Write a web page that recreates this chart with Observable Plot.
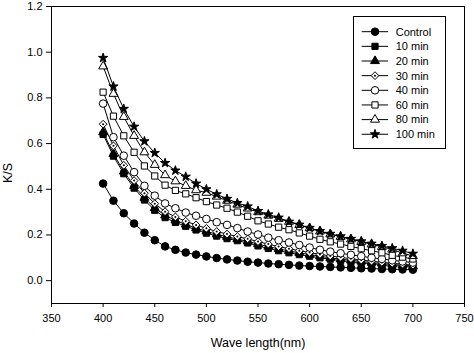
<!DOCTYPE html>
<html><head><meta charset="utf-8">
<script src="https://cdn.jsdelivr.net/npm/d3@7"></script>
<script src="https://cdn.jsdelivr.net/npm/@observablehq/plot@0.6"></script>
<style>
html,body{margin:0;padding:0;background:#fff;}
#chart{position:relative;width:474px;height:353px;font-family:"Liberation Sans",Arial,sans-serif;}
#legend{position:absolute;left:353px;top:16px;}
</style></head><body><div id="chart"></div>
<script>
const wavelengths = [400,410,420,430,440,450,460,470,480,490,500,510,520,530,540,550,560,570,580,590,600,610,620,630,640,650,660,670,680,690,700];
const seriesNames = ["Control","10 min","20 min","30 min","40 min","60 min","80 min","100 min"];
const control = [0.425,0.350,0.295,0.250,0.210,0.177,0.150,0.135,0.123,0.114,0.106,0.099,0.093,0.088,0.083,0.079,0.075,0.072,0.069,0.066,0.064,0.062,0.060,0.058,0.056,0.054,0.053,0.051,0.050,0.049,0.048];
const min10 = [0.640,0.545,0.468,0.405,0.353,0.308,0.276,0.255,0.238,0.222,0.208,0.195,0.184,0.175,0.165,0.152,0.141,0.131,0.122,0.114,0.107,0.100,0.094,0.088,0.083,0.078,0.074,0.070,0.066,0.063,0.060];
const min20 = [0.650,0.555,0.478,0.415,0.363,0.318,0.286,0.264,0.246,0.230,0.216,0.203,0.192,0.182,0.172,0.160,0.149,0.139,0.130,0.122,0.114,0.107,0.100,0.094,0.089,0.084,0.079,0.075,0.071,0.067,0.064];
const min30 = [0.685,0.590,0.505,0.438,0.383,0.337,0.302,0.279,0.260,0.244,0.229,0.215,0.204,0.193,0.183,0.171,0.160,0.149,0.140,0.131,0.123,0.115,0.108,0.102,0.096,0.090,0.085,0.080,0.076,0.072,0.068];
const min40 = [0.775,0.628,0.547,0.475,0.415,0.372,0.338,0.317,0.298,0.284,0.270,0.256,0.244,0.230,0.215,0.202,0.188,0.177,0.167,0.156,0.145,0.135,0.127,0.120,0.113,0.107,0.100,0.095,0.089,0.084,0.079];
const min60 = [0.825,0.720,0.634,0.562,0.502,0.458,0.418,0.395,0.380,0.363,0.346,0.331,0.317,0.300,0.282,0.262,0.248,0.234,0.223,0.209,0.195,0.181,0.170,0.160,0.150,0.140,0.131,0.122,0.111,0.103,0.095];
const min80 = [0.938,0.818,0.717,0.634,0.562,0.507,0.462,0.435,0.415,0.396,0.385,0.368,0.350,0.333,0.316,0.300,0.285,0.271,0.258,0.244,0.230,0.216,0.203,0.192,0.181,0.170,0.159,0.148,0.137,0.120,0.108];
const min100 = [0.975,0.850,0.752,0.674,0.610,0.559,0.515,0.482,0.455,0.425,0.400,0.378,0.358,0.340,0.325,0.305,0.290,0.276,0.258,0.245,0.231,0.217,0.205,0.194,0.183,0.172,0.162,0.152,0.142,0.131,0.118];
const xTicks = [350,400,450,500,550,600,650,700,750];
const yTicks = [0.0,0.2,0.4,0.6,0.8,1.0,1.2];
const xLabel = "Wave length(nm)";
const yLabel = "K/S";

const seriesValues = [control,min10,min20,min30,min40,min60,min80,min100];
// marker styles per series
const styles = [
  {symbol:"circle", r:3.8, fill:"black"},
  {symbol:"square", r:3.5, fill:"black"},
  {symbol:"triangle", r:3.3, fill:"black"},
  {symbol:"diamond2", r:3.5, fill:"white", dot:true},
  {symbol:"circle", r:3.8, fill:"white"},
  {symbol:"square", r:3.5, fill:"white"},
  {symbol:"triangle", r:3.3, fill:"white"},
  {symbol:"star", r:2.9, fill:"black"}
];

const rows = [];
seriesNames.forEach((n,i)=>seriesValues[i].forEach((v,j)=>rows.push({series:n, wl:wavelengths[j], ks:v})));

const marks = [];
seriesNames.forEach((n,i)=>{
  const d = rows.filter(r=>r.series===n);
  const s = styles[i];
  marks.push(Plot.line(d,{x:"wl",y:"ks",stroke:"black",strokeWidth:1}));
  marks.push(Plot.dot(d,{x:"wl",y:"ks",symbol:s.symbol,r:s.r,fill:s.fill,stroke:"black",strokeWidth:1}));
  if (s.dot) marks.push(Plot.dot(d,{x:"wl",y:"ks",r:1,fill:"black",stroke:"none"}));
});

const chart = Plot.plot({
  width:474, height:353,
  marginLeft:51, marginRight:10, marginTop:6, marginBottom:50,
  style:{fontSize:"11px", fontFamily:"'Liberation Sans', Arial, sans-serif", color:"black", background:"white"},
  x:{domain:[350,750]},
  y:{domain:[-0.1,1.2]},
  marks:[
    Plot.axisX({ticks:xTicks, tickSize:4, tickPadding:7, label:null}),
    Plot.axisY({ticks:yTicks, tickSize:5, tickPadding:4, tickFormat:d3.format(".1f"), label:null}),
    ...marks,
    Plot.frame({stroke:"black"}),
    Plot.text([xLabel],{text:d=>d, frameAnchor:"bottom", dy:39.5, lineAnchor:"middle", fontSize:12.5}),
    Plot.text([yLabel],{text:d=>d, frameAnchor:"left", dx:-44, dy:28, rotate:-90, lineAnchor:"middle", fontSize:12.5})
  ]
});
const root = document.getElementById("chart");
root.appendChild(chart);

// legend
const lw = 92, lh = 132;
const leg = d3.select(root).append("svg").attr("id","legend").attr("width",lw+1).attr("height",lh+1);
leg.append("rect").attr("x",0.5).attr("y",0.5).attr("width",lw).attr("height",lh).attr("fill","white").attr("stroke","black");
const symMap = {circle:d3.symbolCircle, square:d3.symbolSquare, triangle:d3.symbolTriangle, diamond2:d3.symbolDiamond2, star:d3.symbolStar};
seriesNames.forEach((n,i)=>{
  const s = styles[i];
  const g = leg.append("g").attr("transform",`translate(0,${15.7+14.65*i})`);
  g.append("line").attr("x1",8.7).attr("x2",35).attr("y1",0).attr("y2",0).attr("stroke","black");
  g.append("path").attr("transform","translate(22,0)")
    .attr("d",d3.symbol(symMap[s.symbol], Math.PI*s.r*s.r)())
    .attr("fill",s.fill).attr("stroke","black");
  if (s.dot) g.append("circle").attr("cx",22).attr("cy",0).attr("r",1).attr("fill","black");
  g.append("text").attr("x",42.7).attr("y",0).attr("dy","0.35em")
    .attr("font-size","11px").attr("font-family","'Liberation Sans', Arial, sans-serif").text(n);
});
</script></body></html>
